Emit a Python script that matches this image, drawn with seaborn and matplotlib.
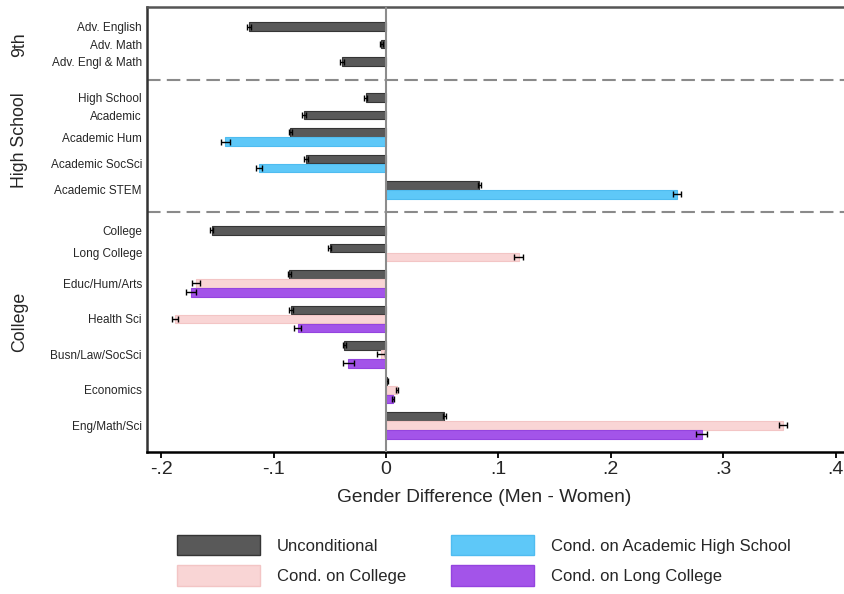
import numpy as np
import matplotlib
matplotlib.use('Agg')
import matplotlib.pyplot as plt
import matplotlib.transforms as mtransforms
from matplotlib.patches import Patch
import seaborn as sns

nan = np.nan

# rows of the chart, top to bottom, and the block each one belongs to
ROWS = ['Adv. English', 'Adv. Math', 'Adv. Engl & Math',
        'High School', 'Academic', 'Academic Hum', 'Academic SocSci', 'Academic STEM',
        'College', 'Long College', 'Educ/Hum/Arts', 'Health Sci', 'Busn/Law/SocSci',
        'Economics', 'Eng/Math/Sci']
SECTIONS = ['9th'] * 3 + ['High School'] * 5 + ['College'] * 7

# gender gaps (men - women) and half widths of the CIs
uncond = [-0.122, -0.004, -0.039, -0.018, -0.073, -0.085, -0.071, 0.083,
          -0.155, -0.050, -0.086, -0.0845, -0.037, 0.001, 0.052]
uncond_ci = [0.0015] * 13 + [0.0008, 0.0015]
acad_hs = [nan, nan, nan, nan, nan, -0.143, -0.113, 0.259,
           nan, nan, nan, nan, nan, nan, nan]
acad_hs_ci = [nan, nan, nan, nan, nan, 0.004, 0.003, 0.0034,
              nan, nan, nan, nan, nan, nan, nan]
college = [nan] * 9 + [0.118, -0.169, -0.1877, -0.0046, 0.0095, 0.353]
college_ci = [nan] * 9 + [0.004, 0.0034, 0.003, 0.0037, 0.001, 0.0037]
long_college = [nan] * 10 + [-0.1735, -0.0786, -0.0335, 0.0065, 0.281]
long_college_ci = [nan] * 10 + [0.0045, 0.0034, 0.005, 0.001, 0.005]

XTICKS = [-0.2, -0.1, 0, 0.1, 0.2, 0.3, 0.4]
XTICK_LABELS = ['-.2', '-.1', '0', '.1', '.2', '.3', '.4']

# (label, values, ci, fill, edge) in the order bars are stacked in a row
SERIES = [
    ('Unconditional', uncond, uncond_ci, '#595959', '#353535'),
    ('Cond. on Academic High School', acad_hs, acad_hs_ci, '#5ec8f8', '#4fbcf0'),
    ('Cond. on College', college, college_ci, '#f9d5d5', '#f3c5c5'),
    ('Cond. on Long College', long_college, long_college_ci, '#a354e9', '#9444df'),
]

GROUP_GAP = 1.94    # bar slots between rows
SECTION_GAP = 3.98  # bar slots between blocks

sns.set_theme(style='white')
plt.rcParams['font.family'] = ['Liberation Sans', 'DejaVu Sans']

# work out where every bar sits
bar_y = {k: [] for k in range(len(SERIES))}
row_centers = []
breaks = []
last = None
for i in range(len(ROWS)):
    present = [k for k, s in enumerate(SERIES) if not np.isnan(s[1][i])]
    if last is None:
        pos = 0.0
    elif SECTIONS[i] != SECTIONS[i - 1]:
        pos = last + SECTION_GAP
        breaks.append(last + SECTION_GAP / 2)
    else:
        pos = last + GROUP_GAP
    ys = [pos + j for j in range(len(present))]
    for k, y in zip(present, ys):
        bar_y[k].append((y, i))
    row_centers.append(np.mean(ys))
    last = ys[-1]

fig = plt.figure(figsize=(8.45, 5.94), dpi=100)
ax = fig.add_axes([147 / 845, 1 - 451.7 / 594, 1 - 147 / 845, (451.7 - 7) / 594])

for k, (label, vals, ci, fill, edge) in enumerate(SERIES):
    ys = [y for y, i in bar_y[k]]
    xs = [vals[i] for y, i in bar_y[k]]
    es = [ci[i] for y, i in bar_y[k]]
    ax.barh(ys, xs, height=0.95, color=fill, edgecolor=edge, linewidth=0.8,
            xerr=es, error_kw=dict(ecolor='black', elinewidth=1, capsize=2.5, capthick=1),
            zorder=2)

ax.axvline(0, color='#8c8c8c', lw=1.5, zorder=3)
for b in breaks:
    ax.axhline(b, color='#8a8a8a', lw=1.5, ls=(0, (6.5, 3)), zorder=1)

ax.set_ylim(last + 1.93, -2.19)
ax.set_xlim(-0.2126, 0.4084)
ax.set_yticks(row_centers)
ax.set_yticklabels(ROWS, fontsize=8.5)
ax.tick_params(axis='y', length=0, pad=3.6)
ax.set_xticks(XTICKS)
ax.set_xticklabels(XTICK_LABELS, fontsize=14)
ax.tick_params(axis='x', direction='out', length=4.5, width=1.3, color='black', pad=2, bottom=True)
ax.set_xlabel('Gender Difference (Men - Women)', fontsize=13.8)
ax.xaxis.set_label_coords(0.483, -0.102)
ax.xaxis.label.set_va('center')

ax.spines['right'].set_visible(False)
ax.spines['top'].set_color('#555555')
ax.spines['top'].set_linewidth(1.8)
ax.spines['left'].set_color('#333333')
ax.spines['left'].set_linewidth(1.8)
ax.spines['bottom'].set_color('black')
ax.spines['bottom'].set_linewidth(1.8)

# block names on the far left
trans = mtransforms.blended_transform_factory(fig.transFigure, ax.transData)
for sec in ['9th', 'High School', 'College']:
    ys = [row_centers[i] for i in range(len(ROWS)) if SECTIONS[i] == sec]
    ax.text(20 / 845, np.mean(ys), sec, transform=trans, rotation=90,
            ha='center', va='center', fontsize=12.8)

handles = [Patch(facecolor=s[3], edgecolor=s[4], linewidth=1) for s in SERIES]
labels = [s[0] for s in SERIES]
order = [0, 2, 1, 3]
fig.legend([handles[i] for i in order], [labels[i] for i in order], ncol=2,
           loc='upper left', bbox_to_anchor=(177 / 845, 1 - 535 / 594),
           frameon=False, fontsize=12, handlelength=5.0, handleheight=1.5,
           handletextpad=1.0, labelspacing=0.6, columnspacing=2.7, borderpad=0,
           borderaxespad=0)

fig.savefig('out.png', dpi=100)
